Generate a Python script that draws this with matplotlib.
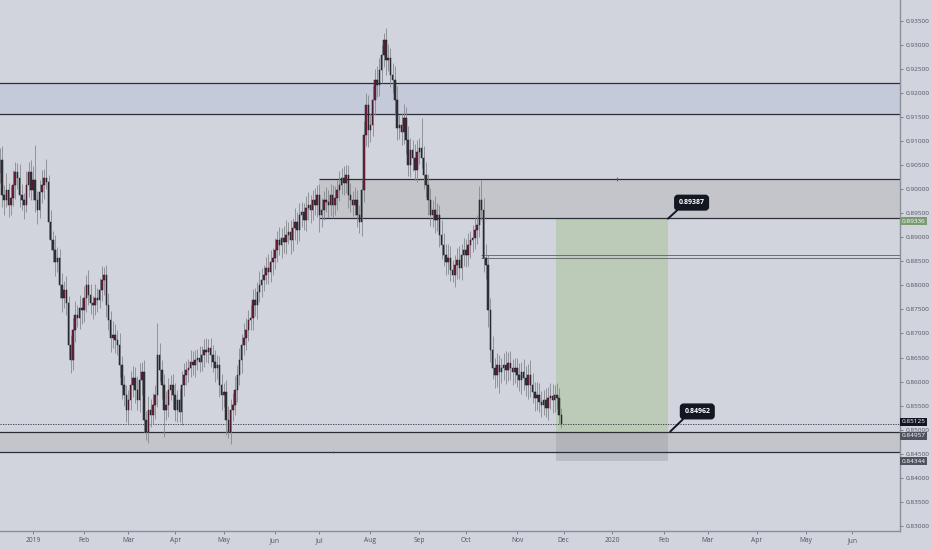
import numpy as np
import pandas as pd
import matplotlib
matplotlib.use("Agg")
import matplotlib.pyplot as plt
from matplotlib.ticker import FormatStrFormatter

# ---------------- data (prices x 1e4) ----------------
first_open = 9033
close_dec18 = [9060, 8988, 8977, 8998, 8967, 8982, 9009, 9036, 9023, 8988, 8977, 8967, 9009, 9036, 8998]
close_jan = [9019, 8977, 8957, 8994, 9009, 9023, 9015, 8932, 8894, 8874, 8849, 8857, 8801, 8774, 8790, 8763,
             8676, 8645, 8707, 8738, 8732, 8753, 8749]
close_feb = [8774, 8801, 8780, 8763, 8759, 8774, 8770, 8790, 8811, 8822, 8759, 8728, 8691, 8697, 8687, 8676,
             8635, 8593, 8572, 8541]
close_mar = [8562, 8593, 8608, 8583, 8562, 8603, 8620, 8520, 8495, 8541, 8531, 8551, 8572, 8655, 8624, 8593,
             8541, 8551, 8583, 8593, 8572]
close_apr = [8541, 8562, 8537, 8593, 8614, 8624, 8628, 8641, 8635, 8645, 8649, 8641, 8655, 8666, 8661, 8670,
             8655, 8641, 8628, 8635, 8593, 8572]
close_may = [8578, 8520, 8495, 8541, 8551, 8583, 8614, 8645, 8676, 8691, 8707, 8728, 8732, 8770, 8759, 8786,
             8801, 8811, 8822, 8836, 8828, 8849, 8857]
close_jun = [8874, 8894, 8884, 8898, 8890, 8905, 8911, 8894, 8919, 8932, 8915, 8946, 8952, 8936, 8961, 8967,
             8957, 8977, 8967, 8988]
close_jul = [8946, 8957, 8977, 8973, 8967, 8988, 8967, 8982, 8998, 9009, 9023, 9013, 9029, 8988, 8977, 8967,
             8977, 8946, 8932, 8998, 9112, 9175, 9123]
close_aug = [9133, 9185, 9227, 9216, 9248, 9279, 9310, 9268, 9272, 9237, 9227, 9185, 9127, 9133, 9119, 9148,
             9102, 9050, 9081, 9065, 9040, 9077]
close_sep = [9085, 9065, 9029, 9009, 8977, 8946, 8957, 8936, 8946, 8905, 8884, 8863, 8849, 8857, 8832, 8822,
             8842, 8853, 8836, 8863, 8874]
close_oct = [8863, 8884, 8894, 8898, 8915, 8925, 8977, 8957, 8857, 8842, 8749, 8666, 8628, 8614, 8635, 8620,
             8628, 8635, 8624, 8639, 8628, 8620, 8628]
close_nov = [8614, 8603, 8620, 8608, 8593, 8614, 8593, 8578, 8566, 8572, 8558, 8551, 8562, 8545, 8566, 8570,
             8562, 8572, 8566, 8531, 8512.5]

# wick lengths above / below the body (pips)
upper_wick = [25, 30, 20, 35, 15, 25, 30, 20, 18, 30, 22, 15, 28, 20, 25,
              30, 73, 20, 25, 30, 18, 40, 15, 25, 20, 30, 22, 18, 25, 20, 30, 15, 20, 25, 30, 22, 28, 20,
              25, 20, 30, 22, 15, 28, 20, 25, 30, 16, 20, 25, 18, 30, 22, 20, 25, 18, 20, 22,
              20, 30, 25, 22, 28, 35, 20, 25, 18, 30, 22, 25, 20, 67, 25, 20, 22, 30, 25, 20, 22,
              25, 20, 22, 30, 25, 18, 20, 25, 22, 20, 18, 25, 20, 22, 25, 18, 20, 22, 25, 20, 18, 22,
              20, 25, 30, 22, 25, 28, 20, 25, 22, 30, 25, 20, 28, 22, 25, 20, 28, 25, 20, 22, 30, 25, 20,
              25, 20, 28, 22, 25, 30, 20, 25, 22, 28, 20, 25, 22, 20, 25, 28, 20, 22, 25, 20,
              22, 25, 20, 28, 25, 22, 20, 25, 22, 28, 20, 25, 21, 22, 25, 20, 28, 22, 20, 25, 30, 25, 20,
              25, 30, 22, 28, 25, 20, 14, 25, 30, 22, 25, 28, 30, 22, 25, 28, 22, 30, 25, 22, 28, 25,
              22, 63, 25, 28, 22, 25, 20, 28, 25, 22, 30, 25, 22, 28, 25, 20, 22, 25, 28, 22, 25,
              22, 25, 20, 28, 25, 22, 30, 42, 25, 30, 22, 25, 28, 22, 25, 20, 22, 25, 28, 22, 25, 20, 22,
              22, 25, 20, 28, 25, 22, 30, 25, 22, 28, 25, 22, 20, 25, 22, 28, 25, 22, 25, 20, 15]
lower_wick = [20, 25, 30, 15, 25, 20, 18, 30, 22, 25, 20, 30, 15, 25, 20,
              20, 25, 30, 18, 22, 30, 15, 35, 20, 25, 30, 22, 28, 30, 20, 25, 30, 27, 20, 25, 18, 22, 30,
              25, 30, 20, 22, 28, 20, 25, 18, 22, 30, 25, 20, 30, 22, 28, 20, 25, 30, 22, 25,
              30, 22, 25, 28, 20, 25, 30, 25, 16, 22, 25, 20, 28, 25, 22, 30, 56, 20, 25, 22, 28,
              22, 25, 20, 28, 22, 20, 25, 18, 22, 25, 20, 22, 18, 25, 20, 22, 25, 20, 28, 22, 25, 30,
              25, 30, 12, 25, 22, 20, 25, 22, 28, 20, 25, 22, 20, 25, 22, 28, 20, 25, 22, 20, 25, 22, 28,
              22, 25, 20, 28, 22, 25, 20, 28, 22, 25, 30, 22, 25, 20, 22, 25, 28, 22, 20, 25,
              35, 25, 22, 20, 25, 22, 28, 20, 25, 22, 20, 25, 22, 28, 25, 22, 20, 25, 23, 30, 25, 22, 35,
              25, 22, 30, 25, 22, 28, 25, 30, 22, 25, 28, 30, 25, 22, 28, 25, 30, 22, 25, 28, 22, 25,
              25, 22, 28, 25, 30, 22, 25, 28, 22, 25, 30, 22, 28, 25, 22, 15, 25, 28, 22, 25, 22,
              25, 22, 28, 25, 22, 30, 25, 22, 30, 28, 35, 25, 22, 28, 25, 44, 22, 25, 28, 22, 25, 28, 22,
              25, 22, 28, 25, 22, 30, 25, 22, 28, 25, 22, 25, 20, 19, 25, 22, 28, 25, 22, 20, 8]

# drawn levels / zones
blue_zone = (0.91555, 0.92212)
supply_zone = (0.89393, 0.90204)
supply_start = "2019-07-01"
double_lines = (0.88575, 0.88631)
double_start = "2019-10-10"
demand_zone = (0.84534, 0.84957)
last_price = 0.85125
entry, target, stop = 0.84962, 0.89387, 0.84344
pos_start, pos_end = "2019-11-26", "2020-02-05"
axis_tag_values = [0.89336, 0.85125, 0.84957, 0.84344]
axis_tag_colors = ["#7a9a72", "#131722", "#50535e", "#50535e"]

# ---------------- prepare ----------------
closes = np.array(close_dec18 + close_jan + close_feb + close_mar + close_apr + close_may + close_jun +
                  close_jul + close_aug + close_sep + close_oct + close_nov) / 1e4
opens = np.concatenate([[first_open / 1e4], closes[:-1]])
highs = np.maximum(opens, closes) + np.array(upper_wick) / 1e4
lows = np.minimum(opens, closes) - np.array(lower_wick) / 1e4
n = len(closes)
all_dates = pd.bdate_range("2018-12-11", "2020-08-31")
x = np.arange(n)

def idx(d):
    return all_dates.get_loc(pd.Timestamp(d))

BG = "#d1d4dc"
plt.rcParams["font.family"] = ["Open Sans", "DejaVu Sans"]
fig = plt.figure(figsize=(9.32, 5.5), dpi=100, facecolor=BG)
ax = fig.add_axes([0, 19 / 550, 900 / 932, 531 / 550], facecolor=BG)

xmin, xmax = 0.14, 405.5
ax.set_xlim(xmin, xmax)
ax.set_ylim(0.82896, 0.9393)

# zones
ax.axhspan(*blue_zone, color="#c5cadb", zorder=1, lw=0)
for lv in blue_zone:
    ax.axhline(lv, color="#2a2e39", lw=0.9, zorder=2)
s = idx(supply_start)
ax.fill_between([s, xmax], supply_zone[0], supply_zone[1], color="#c4c5ca", zorder=1, lw=0)
ax.hlines(list(supply_zone), s, xmax, color="#2a2e39", lw=0.9, zorder=2)
ax.vlines(idx("2020-01-03"), supply_zone[1] - 0.0004, supply_zone[1] + 0.0004, color="#555", lw=0.6, zorder=2)
d = idx(double_start)
ax.hlines(list(double_lines), d, xmax, color="#6a6d75", lw=0.7, zorder=2)
ax.axhspan(*demand_zone, color="#c4c5ca", zorder=1, lw=0)
for lv in demand_zone:
    ax.axhline(lv, color="#2a2e39", lw=0.9, zorder=2)
ax.vlines(idx("2019-07-09"), demand_zone[0] - 0.0002, demand_zone[0] + 0.0002, color="#555", lw=0.6, zorder=2)
ax.axhline(last_price, color="#2a2e39", lw=0.6, ls=(0, (1.5, 1.5)), zorder=2)

# position tool
p0, p1 = idx(pos_start) + 0.5, idx(pos_end)
ax.fill_between([p0, p1], entry, target, color="#bccbb8", zorder=1.5, lw=0)
ax.fill_between([p0, p1], stop, entry, color="#9fa0a6", alpha=0.45, zorder=1.5, lw=0)

# candles
up = closes >= opens
ax.vlines(x, lows, highs, color="#85888f", lw=0.6, zorder=3)
ax.bar(x[up], np.maximum((closes - opens)[up], 0.00005), bottom=opens[up], width=0.66,
       color="#7d1c3c", edgecolor="#1b1d22", linewidth=0.35, zorder=4)
ax.bar(x[~up], np.maximum((opens - closes)[~up], 0.00005), bottom=closes[~up], width=0.66,
       color="#34363c", edgecolor="#1b1d22", linewidth=0.35, zorder=4)

# callouts
for val, xy_x, off in [(target, p1, (17, 11.5)), (entry, p1 + 1, (19.5, 14.5))]:
    ax.annotate(f"{val:.5f}", xy=(xy_x, val), xytext=off, textcoords="offset points",
                ha="center", va="center", color="white", fontsize=5.0, fontweight="bold",
                bbox=dict(boxstyle="round,pad=0.55,rounding_size=0.45", fc="#131722", ec="#131722"),
                arrowprops=dict(arrowstyle="-", color="#131722", lw=1.4, shrinkA=0, shrinkB=0,
                                relpos=(0.12, 0.0)),
                zorder=6, annotation_clip=False)

# axes styling
for sp in ["top", "left"]:
    ax.spines[sp].set_visible(False)
for sp in ["right", "bottom"]:
    ax.spines[sp].set_color("#8c8f98")
    ax.spines[sp].set_linewidth(1.0)
ax.yaxis.tick_right()
ax.set_yticks(np.round(np.arange(0.830, 0.9351, 0.005), 3))
ax.yaxis.set_major_formatter(FormatStrFormatter("%.5f"))
ax.tick_params(axis="y", length=2.5, width=0.6, color="#6b6e76", labelsize=4.6, labelcolor="#50535e", pad=1.5)

ms = [i for i in range(1, len(all_dates)) if all_dates[i].month != all_dates[i - 1].month]
ms = [i for i in ms if i < xmax]
labels = [str(all_dates[i].year) if all_dates[i].month == 1 else all_dates[i].strftime("%b") for i in ms]
ax.set_xticks(ms)
ax.set_xticklabels(labels)
ax.tick_params(axis="x", length=2.5, width=0.6, color="#6b6e76", labelsize=4.8, labelcolor="#50535e", pad=2)

# price tags on the axis (nudged apart like the platform does)
nudge = [0.0, 0.0004, -0.0008, 0.0]
for val, col, dy in zip(axis_tag_values, axis_tag_colors, nudge):
    ax.text(1.0015, val + dy, f"{val:.5f}", transform=ax.get_yaxis_transform(), ha="left", va="center",
            fontsize=4.6, color="white", zorder=7, clip_on=False,
            bbox=dict(boxstyle="square,pad=0.25", fc=col, ec="none"))

fig.savefig("out.png", dpi=100, facecolor=BG)
